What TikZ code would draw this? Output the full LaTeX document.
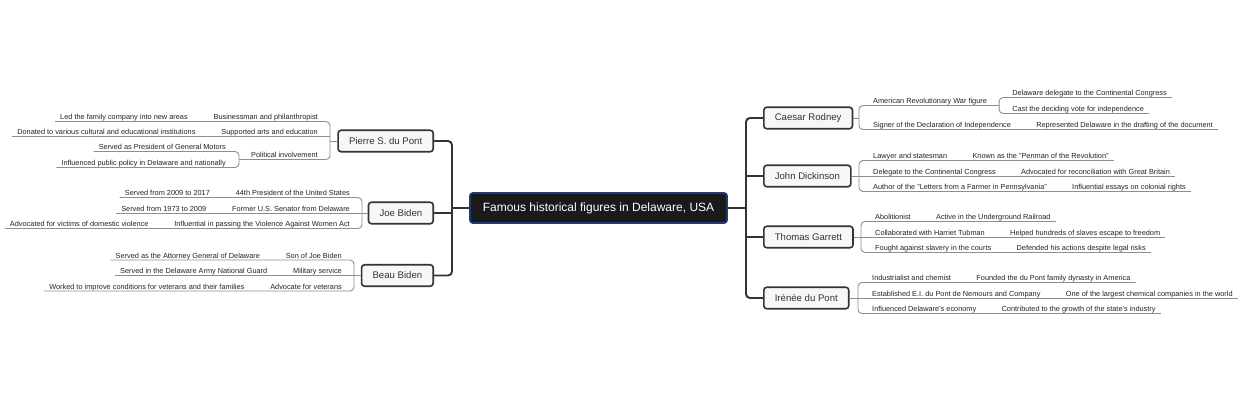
\documentclass[tikz,border=0pt]{standalone}
\usepackage{fontspec}
\setmainfont{Liberation Sans}
\usetikzlibrary{calc}
\definecolor{dark}{HTML}{333333}
\definecolor{twiggray}{HTML}{8E8E8E}
\definecolor{boxfill}{HTML}{F7F7F7}
\definecolor{rootfill}{HTML}{1A1A1A}
\definecolor{rootline}{HTML}{1F3B73}
\definecolor{leaftext}{HTML}{222222}
\tikzset{
  leaf/.style={font=\fontsize{7.35}{8}\selectfont, inner sep=0pt, text=leaftext},
  person/.style={draw=dark, line width=1.6pt, fill=boxfill, rounded corners=3pt,
    font=\fontsize{9.6}{11}\selectfont, minimum height=21.5pt, inner xsep=11pt, inner ysep=0pt, text=dark},
  rootbox/.style={draw=rootline, line width=1.8pt, fill=rootfill, rounded corners=3pt,
    font=\fontsize{12}{14}\selectfont, text=white, minimum width=257pt, minimum height=30pt, inner sep=0pt},
  trunk/.style={draw=dark, line width=1.9pt, rounded corners=4pt},
  twig/.style={draw=twiggray, line width=0.9pt, rounded corners=4pt},
}
% right-side row with two leaves on one line
\newcommand{\PairR}[5]{%
  \coordinate (#2u) at (#1 |- 0,#3);
  \node[leaf, anchor=base west] (#2) at ($(#2u)+(14,-2)$) {#4};
  \node[leaf, anchor=base west] (#2x) at ($(#2.base east)+(25,0)$) {#5};
  \coordinate (#2e) at ($(#2x.base east)+(5,2)$);
}
\newcommand{\PairL}[5]{%
  \coordinate (#2u) at (#1 |- 0,#3);
  \node[leaf, anchor=base east] (#2) at ($(#2u)+(-12,-2)$) {#4};
  \node[leaf, anchor=base east] (#2x) at ($(#2.base west)+(-25.5,0)$) {#5};
  \coordinate (#2e) at ($(#2x.base west)+(-5,2)$);
}
% row whose text forks into two children
\newcommand{\ForkR}[6]{%
  \coordinate (#2u) at (#1 |- 0,#3);
  \node[leaf, anchor=base west] (#2) at ($(#2u)+(14,-2)$) {#4};
  \coordinate (#2f) at ($(#2.base east)+(12,2)$);
  \node[leaf, anchor=base west] (#2a) at ($(#2f)+(13,-10)$) {#5};
  \node[leaf, anchor=base west] (#2b) at ($(#2f)+(13,6)$) {#6};
  \draw[twig] ($(#2a.base east)+(5,2)$) -| (#2f) |- ($(#2b.base east)+(5,2)$);
}
\newcommand{\ForkL}[6]{%
  \coordinate (#2u) at (#1 |- 0,#3);
  \node[leaf, anchor=base east] (#2) at ($(#2u)+(-12,-2)$) {#4};
  \coordinate (#2f) at ($(#2.base west)+(-12,2)$);
  \node[leaf, anchor=base east] (#2a) at ($(#2f)+(-13,-10)$) {#5};
  \node[leaf, anchor=base east] (#2b) at ($(#2f)+(-13,6)$) {#6};
  \draw[twig] ($(#2a.base west)+(-5,2)$) -| (#2f) |- ($(#2b.base west)+(-5,2)$);
}
\begin{document}
\begin{tikzpicture}[x=1pt, y=-1pt]
\frenchspacing
\fill[white] (0,0) rectangle (1240,400);
\path[use as bounding box] (0,0) rectangle (1240,400);

% root
\node[rootbox] (root) at (598.5,208) {Famous historical figures in Delaware, USA};
\coordinate (tl) at (452,208);
\coordinate (tr) at (746,208);

% left persons
\node[person, anchor=east] (P) at (434,141) {Pierre S. du Pont};
\node[person, anchor=east] (J) at (434,213) {Joe Biden};
\node[person, anchor=east] (B) at (434,275.5) {Beau Biden};
% right persons
\node[person, anchor=west] (CR) at (763,118) {Caesar Rodney};
\node[person, anchor=west] (JD) at (763,176) {John Dickinson};
\node[person, anchor=west] (TG) at (763,237) {Thomas Garrett};
\node[person, anchor=west] (ID) at (763,298) {Irénée du Pont};

% trunks
\draw[trunk] (root.west) -- (tl);
\draw[trunk] (P.east) -| (tl) |- (B.east);
\draw[trunk] (J.east) -- (J.east -| tl);
\draw[trunk] (root.east) -- (tr);
\draw[trunk] (CR.west) -| (tr) |- (ID.west);
\draw[trunk] (JD.west) -- (JD.west -| tr);
\draw[trunk] (TG.west) -- (TG.west -| tr);

% bracket points
\coordinate (Pb) at (330,141);
\coordinate (Jb) at (362,213);
\coordinate (Bb) at (354,275.5);
\coordinate (CRb) at (859,118);
\coordinate (JDb) at (859,176);
\coordinate (TGb) at (861,237);
\coordinate (IDb) at (858,298);

% ---- Pierre S. du Pont
\PairL{Pb}{P1}{121.5}{Businessman and philanthropist}{Led the family company into new areas}
\PairL{Pb}{P2}{136.5}{Supported arts and education}{Donated to various cultural and educational institutions}
\ForkL{Pb}{P3}{159.5}{Political involvement}{Served as President of General Motors}{Influenced public policy in Delaware and nationally}
\draw[twig] (P.west) -- (Pb);
\draw[twig] (P1e) -- (P1u) -- (P3u) -- (P3f);
\draw[twig] (P2u) -- (P2e);

% ---- Joe Biden
\PairL{Jb}{J1}{197.5}{44th President of the United States}{Served from 2009 to 2017}
\PairL{Jb}{J2}{213}{Former U.S. Senator from Delaware}{Served from 1973 to 2009}
\PairL{Jb}{J3}{228.5}{Influential in passing the Violence Against Women Act}{Advocated for victims of domestic violence}
\draw[twig] (J.west) -- (Jb);
\draw[twig] (J1e) -- (J1u) -- (J3u) -- (J3e);
\draw[twig] (J2u) -- (J2e);

% ---- Beau Biden
\PairL{Bb}{B1}{260}{Son of Joe Biden}{Served as the Attorney General of Delaware}
\PairL{Bb}{B2}{275.5}{Military service}{Served in the Delaware Army National Guard}
\PairL{Bb}{B3}{291}{Advocate for veterans}{Worked to improve conditions for veterans and their families}
\draw[twig] (B.west) -- (Bb);
\draw[twig] (B1e) -- (B1u) -- (B3u) -- (B3e);
\draw[twig] (B2u) -- (B2e);

% ---- Caesar Rodney
\ForkR{CRb}{CR1}{105.5}{American Revolutionary War figure}{Delaware delegate to the Continental Congress}{Cast the deciding vote for independence}
\PairR{CRb}{CR2}{129.5}{Signer of the Declaration of Independence}{Represented Delaware in the drafting of the document}
\draw[twig] (CR.east) -- (CRb);
\draw[twig] (CR1f) -- (CR1u) -- (CR2u) -- (CR2e);

% ---- John Dickinson
\PairR{JDb}{JD1}{160.5}{Lawyer and statesman}{Known as the "Penman of the Revolution"}
\PairR{JDb}{JD2}{176}{Delegate to the Continental Congress}{Advocated for reconciliation with Great Britain}
\PairR{JDb}{JD3}{191.5}{Author of the "Letters from a Farmer in Pennsylvania"}{Influential essays on colonial rights}
\draw[twig] (JD.east) -- (JDb);
\draw[twig] (JD1e) -- (JD1u) -- (JD3u) -- (JD3e);
\draw[twig] (JD2u) -- (JD2e);

% ---- Thomas Garrett
\PairR{TGb}{TG1}{221.5}{Abolitionist}{Active in the Underground Railroad}
\PairR{TGb}{TG2}{237}{Collaborated with Harriet Tubman}{Helped hundreds of slaves escape to freedom}
\PairR{TGb}{TG3}{252.5}{Fought against slavery in the courts}{Defended his actions despite legal risks}
\draw[twig] (TG.east) -- (TGb);
\draw[twig] (TG1e) -- (TG1u) -- (TG3u) -- (TG3e);
\draw[twig] (TG2u) -- (TG2e);

% ---- Irénée du Pont
\PairR{IDb}{ID1}{282.5}{Industrialist and chemist}{Founded the du Pont family dynasty in America}
\PairR{IDb}{ID2}{298}{Established E.I. du Pont de Nemours and Company}{One of the largest chemical companies in the world}
\PairR{IDb}{ID3}{313.5}{Influenced Delaware's economy}{Contributed to the growth of the state's industry}
\draw[twig] (ID.east) -- (IDb);
\draw[twig] (ID1e) -- (ID1u) -- (ID3u) -- (ID3e);
\draw[twig] (ID2u) -- (ID2e);
\end{tikzpicture}
\end{document}
